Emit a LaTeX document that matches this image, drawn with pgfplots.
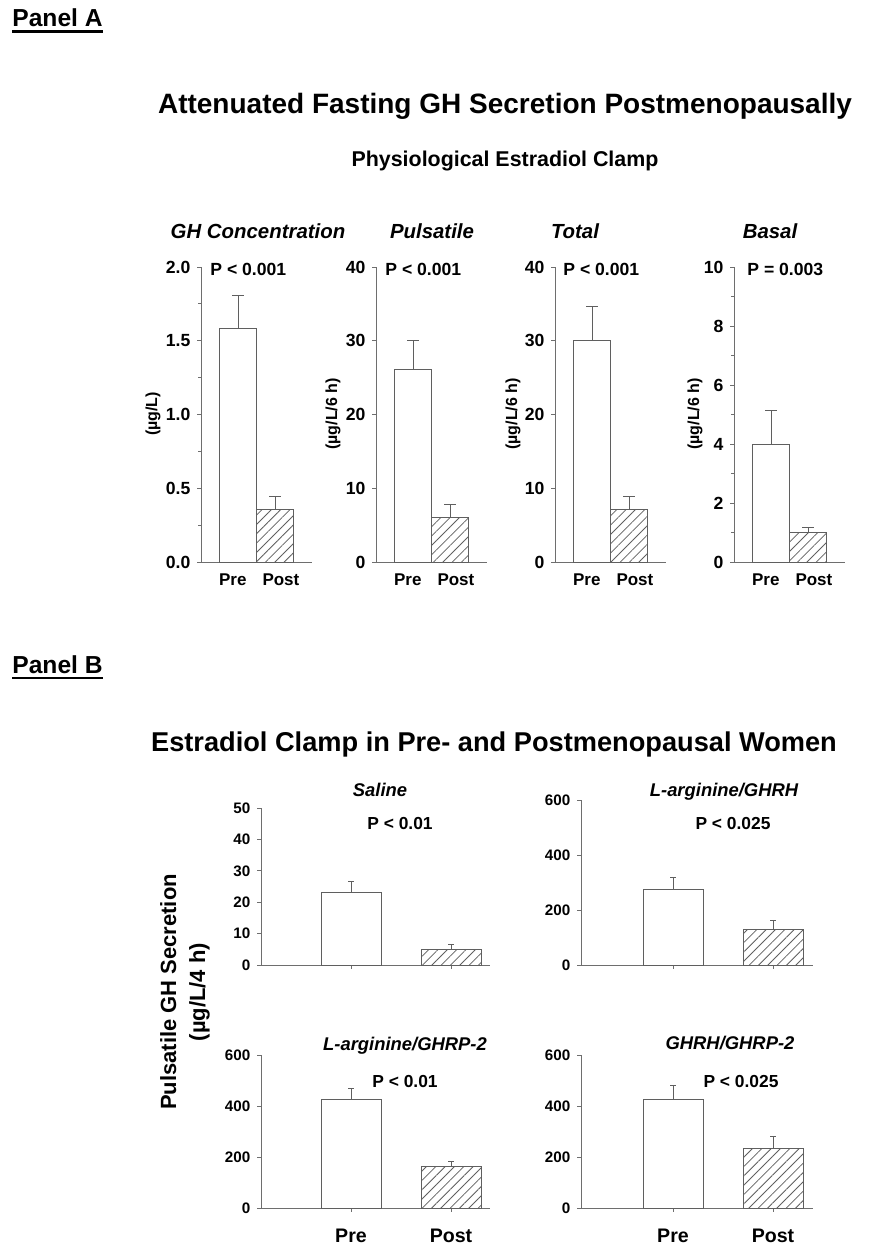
\documentclass[border=0pt]{standalone}
\usepackage{fontspec}
\setmainfont{Liberation Sans}
\usepackage{pgfplots}
\pgfplotsset{compat=1.18}
\usetikzlibrary{patterns.meta}

\definecolor{lgray}{RGB}{110,110,110}
\definecolor{bgray}{RGB}{95,95,95}
\newcommand\fs[1]{\fontsize{#1pt}{#1pt}\selectfont}

\pgfplotsset{
  base/.style={
    scale only axis, anchor=south west,
    axis lines=left, axis line style={-, draw=lgray, line width=0.5pt},
    ybar, bar shift=0pt, ymin=0, enlargelimits=false,
    xtick={1,2}, tick align=outside,
    major tick length=1.8pt, minor tick length=1.4pt,
    tick style={draw=lgray, line width=0.5pt},
    /pgf/number format/assume math mode=true,
    ticklabel style={text=black},
  },
  % panel A: no x tick marks, labels spread a little as in the original
  panelA/.style={base, width=55.5pt, height=147.5pt, xmin=0, xmax=3, bar width=1,
    xtick={0.86,2.16}, xticklabels={Pre,Post}, x tick style={draw=none},
    xticklabel style={font=\bfseries\fs{8.5}, yshift=-0.6pt},
    yticklabel style={font=\bfseries\fs{8.8}}},
  panelB/.style={base, bar width=0.6, ymax=600, ytick={0,200,400,600},
    major tick length=1.8pt,
    yticklabel style={font=\bfseries\fs{7.6}},
    xticklabel style={font=\bfseries\fs{9.8}, yshift=-5pt}},
  pre/.style={draw=bgray, fill=white, line width=0.5pt,
    error bars/y dir=plus, error bars/y explicit,
    error bars/error bar style={draw=bgray, line width=0.5pt},
    error bars/error mark options={draw=bgray, line width=0.5pt, rotate=90, mark size=#1}},
  pre/.default=3pt,
  post/.style={draw=bgray, line width=0.5pt,
    pattern={Lines[angle=45,distance=3.3pt,line width=0.4pt]}, pattern color=bgray,
    error bars/y dir=plus, error bars/y explicit,
    error bars/error bar style={draw=bgray, line width=0.5pt},
    error bars/error mark options={draw=bgray, line width=0.5pt, rotate=90, mark size=#1}},
  post/.default=3pt,
}

\begin{document}
\begin{tikzpicture}
\path[use as bounding box] (0,0) rectangle (436.5pt,-628.5pt);

% ---------------- Panel A ----------------
\begin{axis}[panelA, at={(100.5pt,-281pt)}, ymax=2, ytick={0,0.5,...,2}, minor y tick num=1,
  yticklabel style={/pgf/number format/.cd, fixed, fixed zerofill, precision=1}]
  \addplot[pre] coordinates {(1,1.58) +- (0,0.23)};
  \addplot[post] coordinates {(2,0.357) +- (0,0.09)};
\end{axis}

\begin{axis}[panelA, at={(188pt,-281pt)}, ymax=40, ytick={0,10,...,40}]
  \addplot[pre] coordinates {(1,26.1) +- (0,3.9)};
  \addplot[post] coordinates {(2,6.06) +- (0,1.71)};
\end{axis}

\begin{axis}[panelA, at={(277.5pt,-281pt)}, ymax=40, ytick={0,10,...,40}]
  \addplot[pre] coordinates {(1,30.1) +- (0,4.6)};
  \addplot[post] coordinates {(2,7.14) +- (0,1.72)};
\end{axis}

\begin{axis}[panelA, at={(367pt,-281pt)}, ymax=10, ytick={0,2,...,10}, minor y tick num=1]
  \addplot[pre] coordinates {(1,4.0) +- (0,1.15)};
  \addplot[post] coordinates {(2,0.99) +- (0,0.17)};
\end{axis}

% ---------------- Panel B ----------------
\begin{axis}[panelB, at={(130.5pt,-482.5pt)}, width=114.5pt, height=78.5pt,
  xmin=0.1, xmax=2.39, ymax=50, ytick={0,10,...,50}, xticklabels={}]
  \addplot[pre=1.3pt] coordinates {(1,23.0) +- (0,3.7)};
  \addplot[post=1.3pt] coordinates {(2,4.9) +- (0,1.5)};
\end{axis}

\begin{axis}[panelB, at={(290.5pt,-482.5pt)}, width=116pt, height=82.5pt,
  xmin=0.08, xmax=2.40, xticklabels={}]
  \addplot[pre=1.3pt] coordinates {(1,275) +- (0,42)};
  \addplot[post=1.3pt] coordinates {(2,130) +- (0,31)};
\end{axis}

\begin{axis}[panelB, at={(130.5pt,-604pt)}, width=114.5pt, height=76.5pt,
  xmin=0.1, xmax=2.39, xticklabels={Pre,Post}]
  \addplot[pre=1.3pt] coordinates {(1,424) +- (0,45)};
  \addplot[post=1.3pt] coordinates {(2,161) +- (0,22)};
\end{axis}

\begin{axis}[panelB, at={(290.5pt,-604pt)}, width=116pt, height=76.5pt,
  xmin=0.08, xmax=2.40, xticklabels={Pre,Post}]
  \addplot[pre=1.3pt] coordinates {(1,424) +- (0,58)};
  \addplot[post=1.3pt] coordinates {(2,233) +- (0,46)};
\end{axis}

% ---------------- texts (pixel coordinates) ----------------
\begin{scope}[x=0.5pt, y=-0.5pt, every node/.style={inner sep=0pt, text=black}]
  \node[anchor=base west, font=\bfseries\fs{12.3}] at (12,27) {Panel A};
  \draw[line width=1.1pt] (12,31.5) -- (103,31.5);
  \node[anchor=base west, font=\bfseries\fs{12.3}] at (12,673) {Panel B};
  \draw[line width=1.1pt] (12,678) -- (103,678);

  \node[anchor=base, font=\bfseries\fs{14}] at (505,114) {Attenuated Fasting GH Secretion Postmenopausally};
  \node[anchor=base, font=\bfseries\fs{10.7}] at (505,167) {Physiological Estradiol Clamp};

  \node[anchor=base, font=\bfseries\itshape\fs{10.2}] at (258,239) {GH Concentration};
  \node[anchor=base, font=\bfseries\itshape\fs{10.2}] at (432,239) {Pulsatile};
  \node[anchor=base, font=\bfseries\itshape\fs{10.2}] at (575,239) {Total};
  \node[anchor=base, font=\bfseries\itshape\fs{10.2}] at (770,239) {Basal};

  \node[anchor=base west, font=\bfseries\fs{8.8}] at (210,275) {P < 0.001};
  \node[anchor=base west, font=\bfseries\fs{8.8}] at (385,275) {P < 0.001};
  \node[anchor=base west, font=\bfseries\fs{8.8}] at (563,275) {P < 0.001};
  \node[anchor=base west, font=\bfseries\fs{8.8}] at (747,275) {P = 0.003};

  \node[rotate=90, font=\bfseries\fs{8}] at (153,414) {(µg/L)};
  \node[rotate=90, font=\bfseries\fs{8}] at (333,414) {(µg/L/6 h)};
  \node[rotate=90, font=\bfseries\fs{8}] at (513,414) {(µg/L/6 h)};
  \node[rotate=90, font=\bfseries\fs{8}] at (695,414) {(µg/L/6 h)};

  \node[anchor=base, font=\bfseries\fs{13.6}] at (494,751) {Estradiol Clamp in Pre- and Postmenopausal Women};

  \node[anchor=base, font=\bfseries\itshape\fs{9.2}] at (380,796) {Saline};
  \node[anchor=base, font=\bfseries\itshape\fs{9.2}] at (724,796) {L-arginine/GHRH};
  \node[anchor=base, font=\bfseries\itshape\fs{9.2}] at (405,1050) {L-arginine/GHRP-2};
  \node[anchor=base, font=\bfseries\itshape\fs{9.2}] at (730,1049) {GHRH/GHRP-2};

  \node[anchor=base, font=\bfseries\fs{8.7}] at (400,829) {P < 0.01};
  \node[anchor=base, font=\bfseries\fs{8.7}] at (733,829) {P < 0.025};
  \node[anchor=base, font=\bfseries\fs{8.7}] at (405,1087) {P < 0.01};
  \node[anchor=base, font=\bfseries\fs{8.7}] at (741,1087) {P < 0.025};

  \node[rotate=90, align=center, font=\bfseries\fontsize{11pt}{14.5pt}\selectfont] at (185,992)
    {Pulsatile GH Secretion\\(µg/L/4 h)};
\end{scope}
\end{tikzpicture}
\end{document}
